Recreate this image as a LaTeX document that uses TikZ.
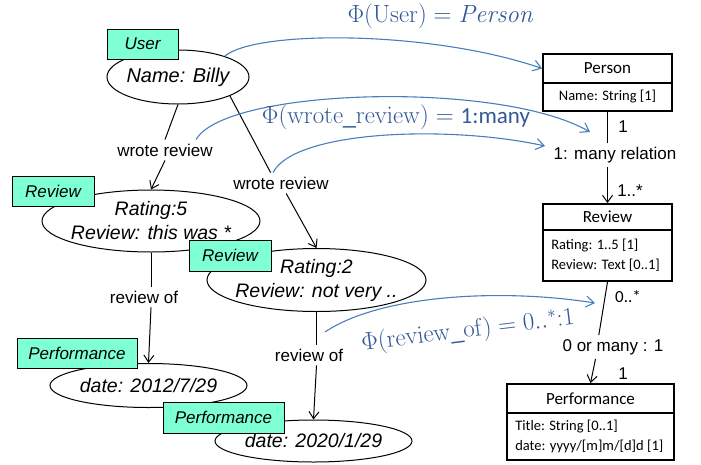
\documentclass[tikz,border=0pt]{standalone}
\usepackage[no-math]{fontspec}
\setmainfont{Liberation Sans}
\newfontfamily\calib{Carlito}
\usetikzlibrary{shapes.geometric,arrows.meta,calc}
\definecolor{tagfill}{RGB}{127,255,212}
\definecolor{philine}{RGB}{74,126,187}
\definecolor{phitext}{RGB}{50,88,150}
\begin{document}
\begin{tikzpicture}[x=1pt,y=-1pt,
  ell/.style={draw, ellipse, fill=white, line width=1pt, inner sep=0pt},
  elltext/.style={font=\fontsize{19.5}{24}\selectfont\itshape, align=center, inner sep=0pt},
  tag/.style={draw, fill=tagfill, line width=1pt, font=\fontsize{17}{20}\selectfont\itshape, inner sep=0pt},
  lbl/.style={font=\fontsize{17}{20}\selectfont, inner sep=4pt},
  conn/.style={draw, line width=1pt},
  arr/.style={conn, -{Straight Barb[length=7pt,width=10pt]}},
  phi/.style={draw=philine, line width=1.1pt, -{Straight Barb[length=8pt,width=11pt]}},
  phil/.style={text=phitext, font=\fontsize{23}{26}\selectfont, inner sep=0pt},
  umlh/.style={draw, line width=1.8pt, font=\calib\fontsize{17}{20}\selectfont, inner sep=0pt},
  umlb/.style={draw, line width=1.8pt, font=\calib\fontsize{14.5}{20}\selectfont, inner sep=0pt},
  umlt/.style={font=\calib\fontsize{14.5}{20}\selectfont, align=left, inner sep=0pt},
  mult/.style={font=\fontsize{17}{20}\selectfont, inner sep=0pt}
]
\useasboundingbox (0,0) rectangle (701,464);

% instance ellipses
\node[ell, minimum width=142, minimum height=54] (user) at (178,77) {};
\node[elltext, font=\fontsize{20}{24}\selectfont\itshape] (usert) at (user) {Name: Billy};
\node[ell, minimum width=218, minimum height=62] (rev1) at (151,221) {};
\node[elltext] (rev1t) at (rev1) {Rating:5\\Review: this was *};
\node[ell, minimum width=219, minimum height=63] (rev2) at (316.5,280) {};
\node[elltext] (rev2t) at (rev2) {Rating:2\\Review: not very ..};
\node[ell, minimum width=197, minimum height=44] (perf1) at (148.5,385.5) {};
\node[elltext] (perf1t) at (perf1) {date: 2012/7/29};
\node[ell, minimum width=197, minimum height=42] (perf2) at (313.5,441) {};
\node[elltext] (perf2t) at (perf2) {date: 2020/1/29};

% type tags
\node[tag, minimum width=71, minimum height=30] (usertag) at (142.5,44) {User};
\node[tag, minimum width=82, minimum height=30] (rev1tag) at (53,191) {Review};
\node[tag, minimum width=82, minimum height=31] (rev2tag) at (230,255.5) {Review};
\node[tag, minimum width=120, minimum height=30] (perf1tag) at (77,353) {Performance};
\node[tag, minimum width=121, minimum height=31] (perf2tag) at (223.5,417.5) {Performance};

% edge labels
\node[lbl] (wr1) at (165,150) {wrote review};
\node[lbl] (wr2) at (281,183) {wrote review};
\node[lbl] (ro1) at (144,297) {review of};
\node[lbl] (ro2) at (309,355) {review of};

% instance connectors
\draw[conn] (user.south) -- (wr1.north);
\draw[arr] (wr1.south) -- (rev1.north);
\draw[conn] (user.-20) -- ($(wr2.north west)!0.4!(wr2.north east)$);
\draw[arr] ($(wr2.south west)!0.55!(wr2.south east)$) -- (rev2.north);
\draw[conn] (rev1.south) -- (rev1.south |- ro1.north);
\draw[arr] (rev1.south |- ro1.south) -- (perf1.north);
\draw[conn] (rev2.south) -- (rev2.south |- ro2.north);
\draw[arr] (rev2.south |- ro2.south) -- (perf2.north);

% UML classes
\node[umlh, minimum width=129, minimum height=29] (personh) at (607.5,68.5) {Person};
\node[umlb, minimum width=129, minimum height=28] (personb) at (607.5,97) {Name: String [1]};
\node[umlh, minimum width=129, minimum height=26] (reviewh) at (607.5,217) {Review};
\node[umlb, minimum width=129, minimum height=51] (reviewb) at (607.5,255.5) {};
\node[umlt, anchor=west] (reviewbt) at ($(reviewb.west)+(9,0)$) {Rating: 1..5 [1]\\Review: Text [0..1]};
\node[umlh, minimum width=167, minimum height=29] (perfh) at (590.5,398.5) {Performance};
\node[umlb, minimum width=167, minimum height=47] (perfb) at (590.5,436.5) {};
\node[umlt, anchor=west] (perfbt) at ($(perfb.west)+(9,0)$) {Title: String [0..1]\\date: yyyy/[m]m/[d]d [1]};

\node[lbl] (rel1) at (615,155) {1: many relation};
\node[lbl] (rel2) at (613,347) {0 or many : 1};
\node[mult] (m1) at (623,127) {1};
\node[mult] (m2) at (630,191) {1..*};
\node[mult, font=\calib\fontsize{17}{20}\selectfont] (m3) at (628,297) {0..*};
\node[mult] (m4) at (623,374) {1};

\draw[conn] (personb.south) -- (personb.south |- rel1.north);
\draw[arr] (personb.south |- rel1.south) -- (reviewh.north);
\draw[conn] (reviewb.south) -- ($(rel2.north west)!0.37!(rel2.north east)$);
\draw[arr] ($(rel2.south west)!0.34!(rel2.south east)$) -- (perfh.north);

% mapping arrows
\coordinate (t1) at (590,132);
\coordinate (t2) at (545,146);
\coordinate (s4) at (325,332);
\coordinate (t4) at (595,303);
\draw[phi] (user.24) .. controls (255,30) and (430,30) .. (personh.west);
\draw[phi] ($(wr1.north)!0.6!(wr1.north east)$) .. controls (225,88) and (500,80) .. (t1);
\draw[phi] ($(wr2.north)+(-8,0)$) .. controls (295,130) and (450,125) .. (t2);
\draw[phi] (s4) .. controls (380,295) and (500,288) .. (t4);

\node[phil] (phi1) at (441,16) {$\Phi(\mathrm{User}) = \mathit{Person}$};
\node[phil] (phi2) at (396,117) {$\Phi(\mathrm{wrote\_review}) = {}${\calib 1:many}};
\node[phil, rotate=7] (phi3) at (468,331) {$\Phi(\mathrm{review\_of}) = 0..{}^{*}{:}1$};
\end{tikzpicture}
\end{document}
